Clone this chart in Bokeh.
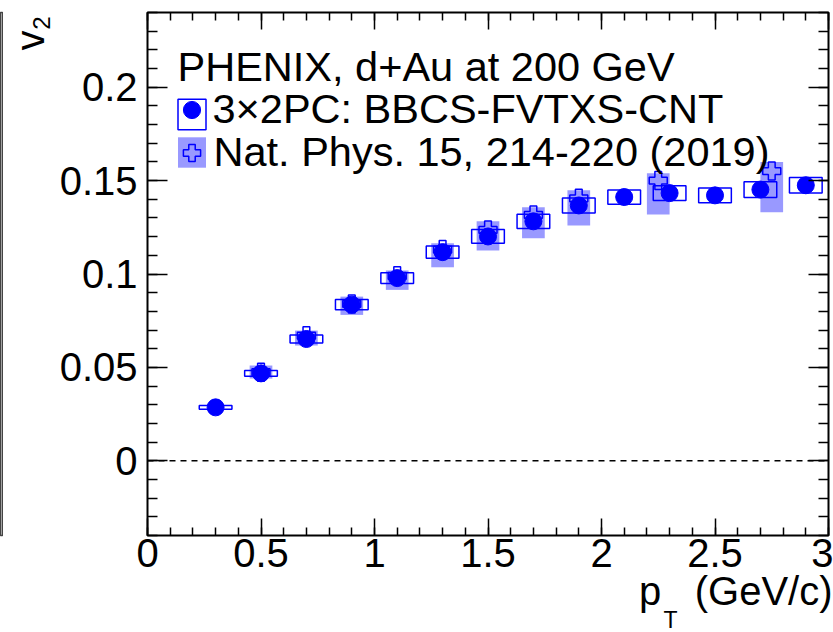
import numpy as np
from bokeh.plotting import figure
from bokeh.models import (Range1d, FixedTicker, LinearAxis, Span, Label, Legend, LegendItem,
                          CustomLabelingPolicy, Title)
from bokeh.layouts import row
from bokeh.embed import file_html
from bokeh.resources import INLINE

# ---------------- data ----------------
pt_3x2pc = [0.3, 0.5, 0.7, 0.9, 1.1, 1.3, 1.5, 1.7, 1.9, 2.1, 2.3, 2.5, 2.7, 2.9]
v2_3x2pc = [0.0286, 0.0468, 0.0652, 0.0836, 0.0978, 0.1117, 0.1201, 0.1282,
            0.1367, 0.1412, 0.1433, 0.1421, 0.1452, 0.1475]
sys_3x2pc = [0.0010, 0.0016, 0.0022, 0.0027, 0.0029, 0.0033, 0.0037, 0.0038,
             0.0040, 0.0038, 0.0039, 0.0040, 0.0042, 0.0042]

pt_natphys = [0.5, 0.7, 0.9, 1.1, 1.3, 1.5, 1.7, 1.9, 2.25, 2.75]
v2_natphys = [0.0474, 0.0670, 0.0840, 0.0990, 0.1131, 0.1236, 0.1316, 0.1405, 0.1500, 0.1551]
sys_lo_natphys = [0.0440, 0.0617, 0.0781, 0.0915, 0.1036, 0.1126, 0.1192, 0.1260, 0.1319, 0.1331]
sys_hi_natphys = [0.0510, 0.0697, 0.0879, 0.1019, 0.1165, 0.1282, 0.1358, 0.1448, 0.1540, 0.1600]

x_major_ticks = [0, 0.5, 1, 1.5, 2, 2.5, 3]
x_tick_labels = ["0", "0.5", "1", "1.5", "2", "2.5", "3"]
y_major_ticks = [0, 0.05, 0.1, 0.15, 0.2]
y_tick_labels = ["0", "0.05", "0.1", "0.15", "0.2"]

title_text = "PHENIX, d+Au at 200 GeV"
label_3x2pc = "3\u00d72PC: BBCS-FVTXS-CNT"
label_natphys = "Nat. Phys. 15, 214-220 (2019)"
x_title_main = "p\u00a0\u00a0\u00a0(GeV/c)"
x_title_sub = "T"
y_title_main = "v"
y_title_sub = "2"

# ---------------- style ----------------
FONT = "Liberation Sans"
BLUE = "#0000ff"
BOX_HW = 0.072
SHADE_HW = 0.05
H = 632
NB_W = 3

p = figure(width=833 - NB_W, height=H, x_range=Range1d(0, 3), y_range=Range1d(-0.04, 0.24),
           output_backend="svg", toolbar_location=None, title=None,
           min_border_left=147 - NB_W, min_border_right=5, min_border_top=12, min_border_bottom=97)
p.xgrid.visible = False
p.ygrid.visible = False
p.outline_line_color = "black"
p.outline_line_width = 2
p.background_fill_color = "white"
p.border_fill_color = "white"

x_minor = [float(v) for v in np.round(np.arange(0, 3.0001, 0.1), 3)]
y_minor = [float(v) for v in np.round(np.arange(-0.04, 0.24001, 0.01), 3)]


def style_axis(ax, ticks, minor, major_len, minor_len, labels=None, standoff=0):
    ax.ticker = FixedTicker(ticks=ticks, minor_ticks=minor)
    ax.axis_line_color = None
    ax.major_tick_in = major_len
    ax.major_tick_out = 0
    ax.minor_tick_in = minor_len
    ax.minor_tick_out = 0
    ax.major_tick_line_width = 1.5
    ax.minor_tick_line_width = 1.5
    ax.major_tick_line_color = "black"
    ax.minor_tick_line_color = "black"
    if labels is not None:
        ax.major_label_overrides = dict(zip(ticks, labels))
        ax.major_label_text_font = FONT
        ax.major_label_text_font_size = "40px"
        ax.major_label_text_color = "black"
        ax.major_label_standoff = standoff
    else:
        ax.major_label_policy = CustomLabelingPolicy(code="return new Set()")
        ax.major_label_text_font_size = "1px"
        ax.major_label_standoff = 0


style_axis(p.xaxis[0], x_major_ticks, x_minor, 17, 8, x_tick_labels, 3)
style_axis(p.yaxis[0], y_major_ticks, y_minor, 20, 10, y_tick_labels, 10)
top_ax = LinearAxis()
right_ax = LinearAxis()
style_axis(top_ax, x_major_ticks, x_minor, 17, 8)
style_axis(right_ax, y_major_ticks, y_minor, 20, 10)
p.add_layout(top_ax, "above")
p.add_layout(right_ax, "right")

p.add_layout(Span(location=0, dimension="width", line_color="black",
                  line_width=1.5, line_dash="6 5"))


def side_title(text, side, size, align, valign, offset, standoff):
    p.add_layout(Title(text=text, align=align, vertical_align=valign, offset=offset,
                       standoff=standoff, text_font=FONT, text_font_size=size,
                       text_font_style="normal", text_color="black"), side)


# y-axis title  v_2  (rotated, at the top end of the axis)
side_title(y_title_sub, "left", "24px", "right", "bottom", 4, 14)
side_title(y_title_main, "left", "40px", "right", "bottom", 18, -57)

# x-axis title  p_T (GeV/c)  (at the right end of the axis)
side_title(x_title_main, "below", "40px", "right", "top", -4, -1)
side_title(x_title_sub, "below", "23px", "left", "top", 516, -16)

# ---------------- marks ----------------
shade_r = p.quad(left=[x - SHADE_HW for x in pt_natphys], right=[x + SHADE_HW for x in pt_natphys],
                 bottom=sys_lo_natphys, top=sys_hi_natphys,
                 fill_color=BLUE, fill_alpha=0.4, line_color=None)
plus_r = p.scatter(pt_natphys, v2_natphys, marker="plus", size=18,
                   fill_alpha=0, line_color=BLUE, line_width=1.5)
box_r = p.rect(x=pt_3x2pc, y=v2_3x2pc, width=2 * BOX_HW, height=[2 * s for s in sys_3x2pc],
               fill_color=None, line_color=BLUE, line_width=1.5)
circ_r = p.scatter(pt_3x2pc, v2_3x2pc, marker="circle", size=17,
                   fill_color=BLUE, line_color=BLUE)

# ---------------- legend (swatches) ----------------
legA = Legend(items=[LegendItem(label=" ", renderers=[box_r]),
                     LegendItem(label=" ", renderers=[shade_r])],
              location=(26.5, 364), glyph_width=35, glyph_height=38, spacing=0,
              padding=0, margin=0, border_line_color=None, background_fill_alpha=0,
              label_text_font_size="1px", label_standoff=0, label_height=1, label_width=1)
legB = Legend(items=[LegendItem(label=" ", renderers=[circ_r]),
                     LegendItem(label=" ", renderers=[plus_r])],
              location=(22.5, 361.5), glyph_width=43, glyph_height=43, spacing=-5,
              padding=0, margin=0, border_line_color=None, background_fill_alpha=0,
              label_text_font_size="1px", label_standoff=0, label_height=1, label_width=1)
p.add_layout(legA)
p.add_layout(legB)


def lab(text, x, y, size):
    p.add_layout(Label(x=x, y=y, x_units="screen", y_units="screen", text=text,
                       text_font=FONT, text_font_size=size, text_align="left",
                       text_baseline="middle", text_color="black"))


lab(title_text, 30, 469, "41.5px")
lab(label_3x2pc, 65, 427, "41.5px")
lab(label_natphys, 66, 384, "41.5px")

# sliver of the neighbouring panel's frame at the far left
neighbour = figure(width=NB_W, height=H, x_range=Range1d(0, 1), y_range=Range1d(0, 1),
                   output_backend="svg", toolbar_location=None, title=None,
                   x_axis_type=None, y_axis_type=None,
                   min_border_left=0, min_border_right=0, min_border_top=12, min_border_bottom=97)
neighbour.xgrid.visible = False
neighbour.ygrid.visible = False
neighbour.background_fill_color = "white"
neighbour.border_fill_color = "white"
neighbour.outline_line_color = "#444444"
neighbour.outline_line_width = 1.5

layout = row(neighbour, p, spacing=0)

open("out.html", "w").write(file_html(layout, INLINE))
